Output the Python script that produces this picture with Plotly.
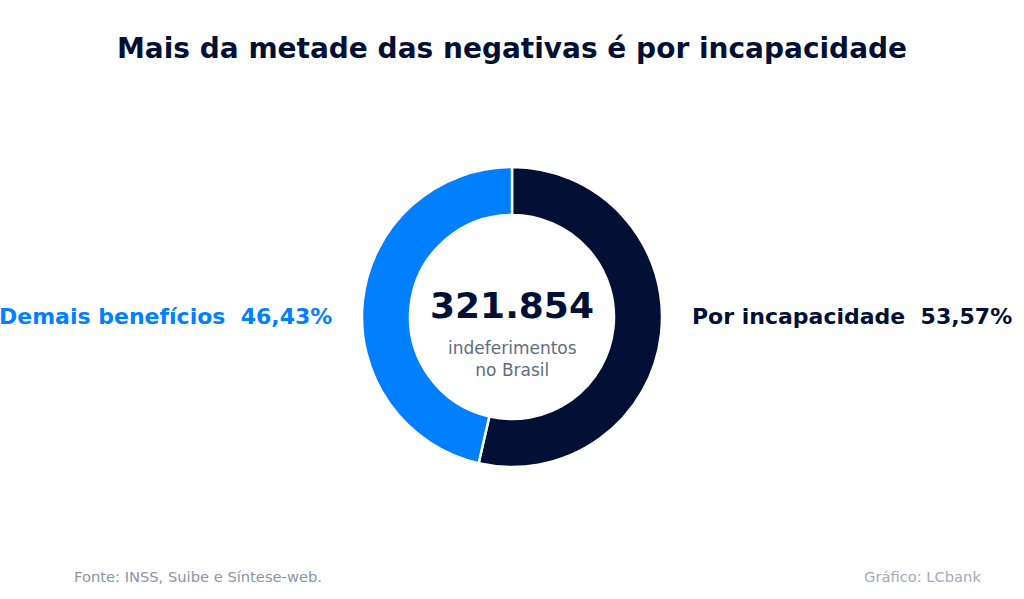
import plotly.graph_objects as go

categorias = ['Por incapacidade', 'Demais benefícios']
percentuais = [53.57, 46.43]
rotulos_pct = ['53,57%', '46,43%']
cores = ['#021035', '#0080FF']
total_texto = '321.854'

W, H = 1024, 599
cx, cy, r = 512, 317, 150  # centro e raio do donut em pixels

fig = go.Figure(go.Pie(
    labels=categorias,
    values=percentuais,
    hole=0.68,
    sort=False,
    direction='clockwise',
    rotation=0,
    marker=dict(colors=cores, line=dict(color='white', width=2.5)),
    textinfo='none',
    hoverinfo='label+percent',
    showlegend=False,
    domain=dict(x=[0, 1], y=[(H - cy - r) / H, (H - cy + r) / H]),
))

# rótulos laterais
fig.add_annotation(x=(cx + r + 28) / W, y=(H - cy + 1) / H, xref='paper', yref='paper',
                   text=f'<b>{categorias[0]}  {rotulos_pct[0]}</b>', showarrow=False,
                   xanchor='left', yanchor='middle',
                   font=dict(family='DejaVu Sans', size=22, color=cores[0]))
fig.add_annotation(x=(cx - r - 28) / W, y=(H - cy + 1) / H, xref='paper', yref='paper',
                   text=f'<b>{categorias[1]}  {rotulos_pct[1]}</b>', showarrow=False,
                   xanchor='right', yanchor='middle',
                   font=dict(family='DejaVu Sans', size=22, color=cores[1]))

# texto central
fig.add_annotation(x=0.5, y=(H - 305) / H, xref='paper', yref='paper',
                   text=f'<b>{total_texto}</b>', showarrow=False, yanchor='middle',
                   font=dict(family='DejaVu Sans', size=36, color='#021035'))
fig.add_annotation(x=0.5, y=(H - 359) / H, xref='paper', yref='paper',
                   text='indeferimentos<br>no Brasil', showarrow=False, yanchor='middle',
                   font=dict(family='DejaVu Sans', size=17, color='#5F6B80'))

# rodapé
fig.add_annotation(x=72 / W, y=(H - 576) / H, xref='paper', yref='paper',
                   text='Fonte: INSS, Suibe e Síntese-web.', showarrow=False,
                   xanchor='left', yanchor='middle',
                   font=dict(family='DejaVu Sans', size=14.7, color='#8A94A6'))
fig.add_annotation(x=983 / W, y=(H - 576) / H, xref='paper', yref='paper',
                   text='Gráfico: LCbank', showarrow=False,
                   xanchor='right', yanchor='middle',
                   font=dict(family='DejaVu Sans', size=14.7, color='#A3ABBA'))

fig.update_layout(
    width=W, height=H,
    margin=dict(l=0, r=0, t=0, b=0),
    paper_bgcolor='white',
    plot_bgcolor='white',
    title=dict(text='<b>Mais da metade das negativas é por incapacidade</b>',
               x=0.5, xanchor='center', y=(H - 48) / H, yanchor='middle',
               font=dict(family='DejaVu Sans', size=28, color='#021035')),
)

# tira a margem padrão do body para o gráfico ocupar a janela toda
fig.write_html('out.html', config={'displayModeBar': False},
               post_script="document.body.style.margin='0';")
